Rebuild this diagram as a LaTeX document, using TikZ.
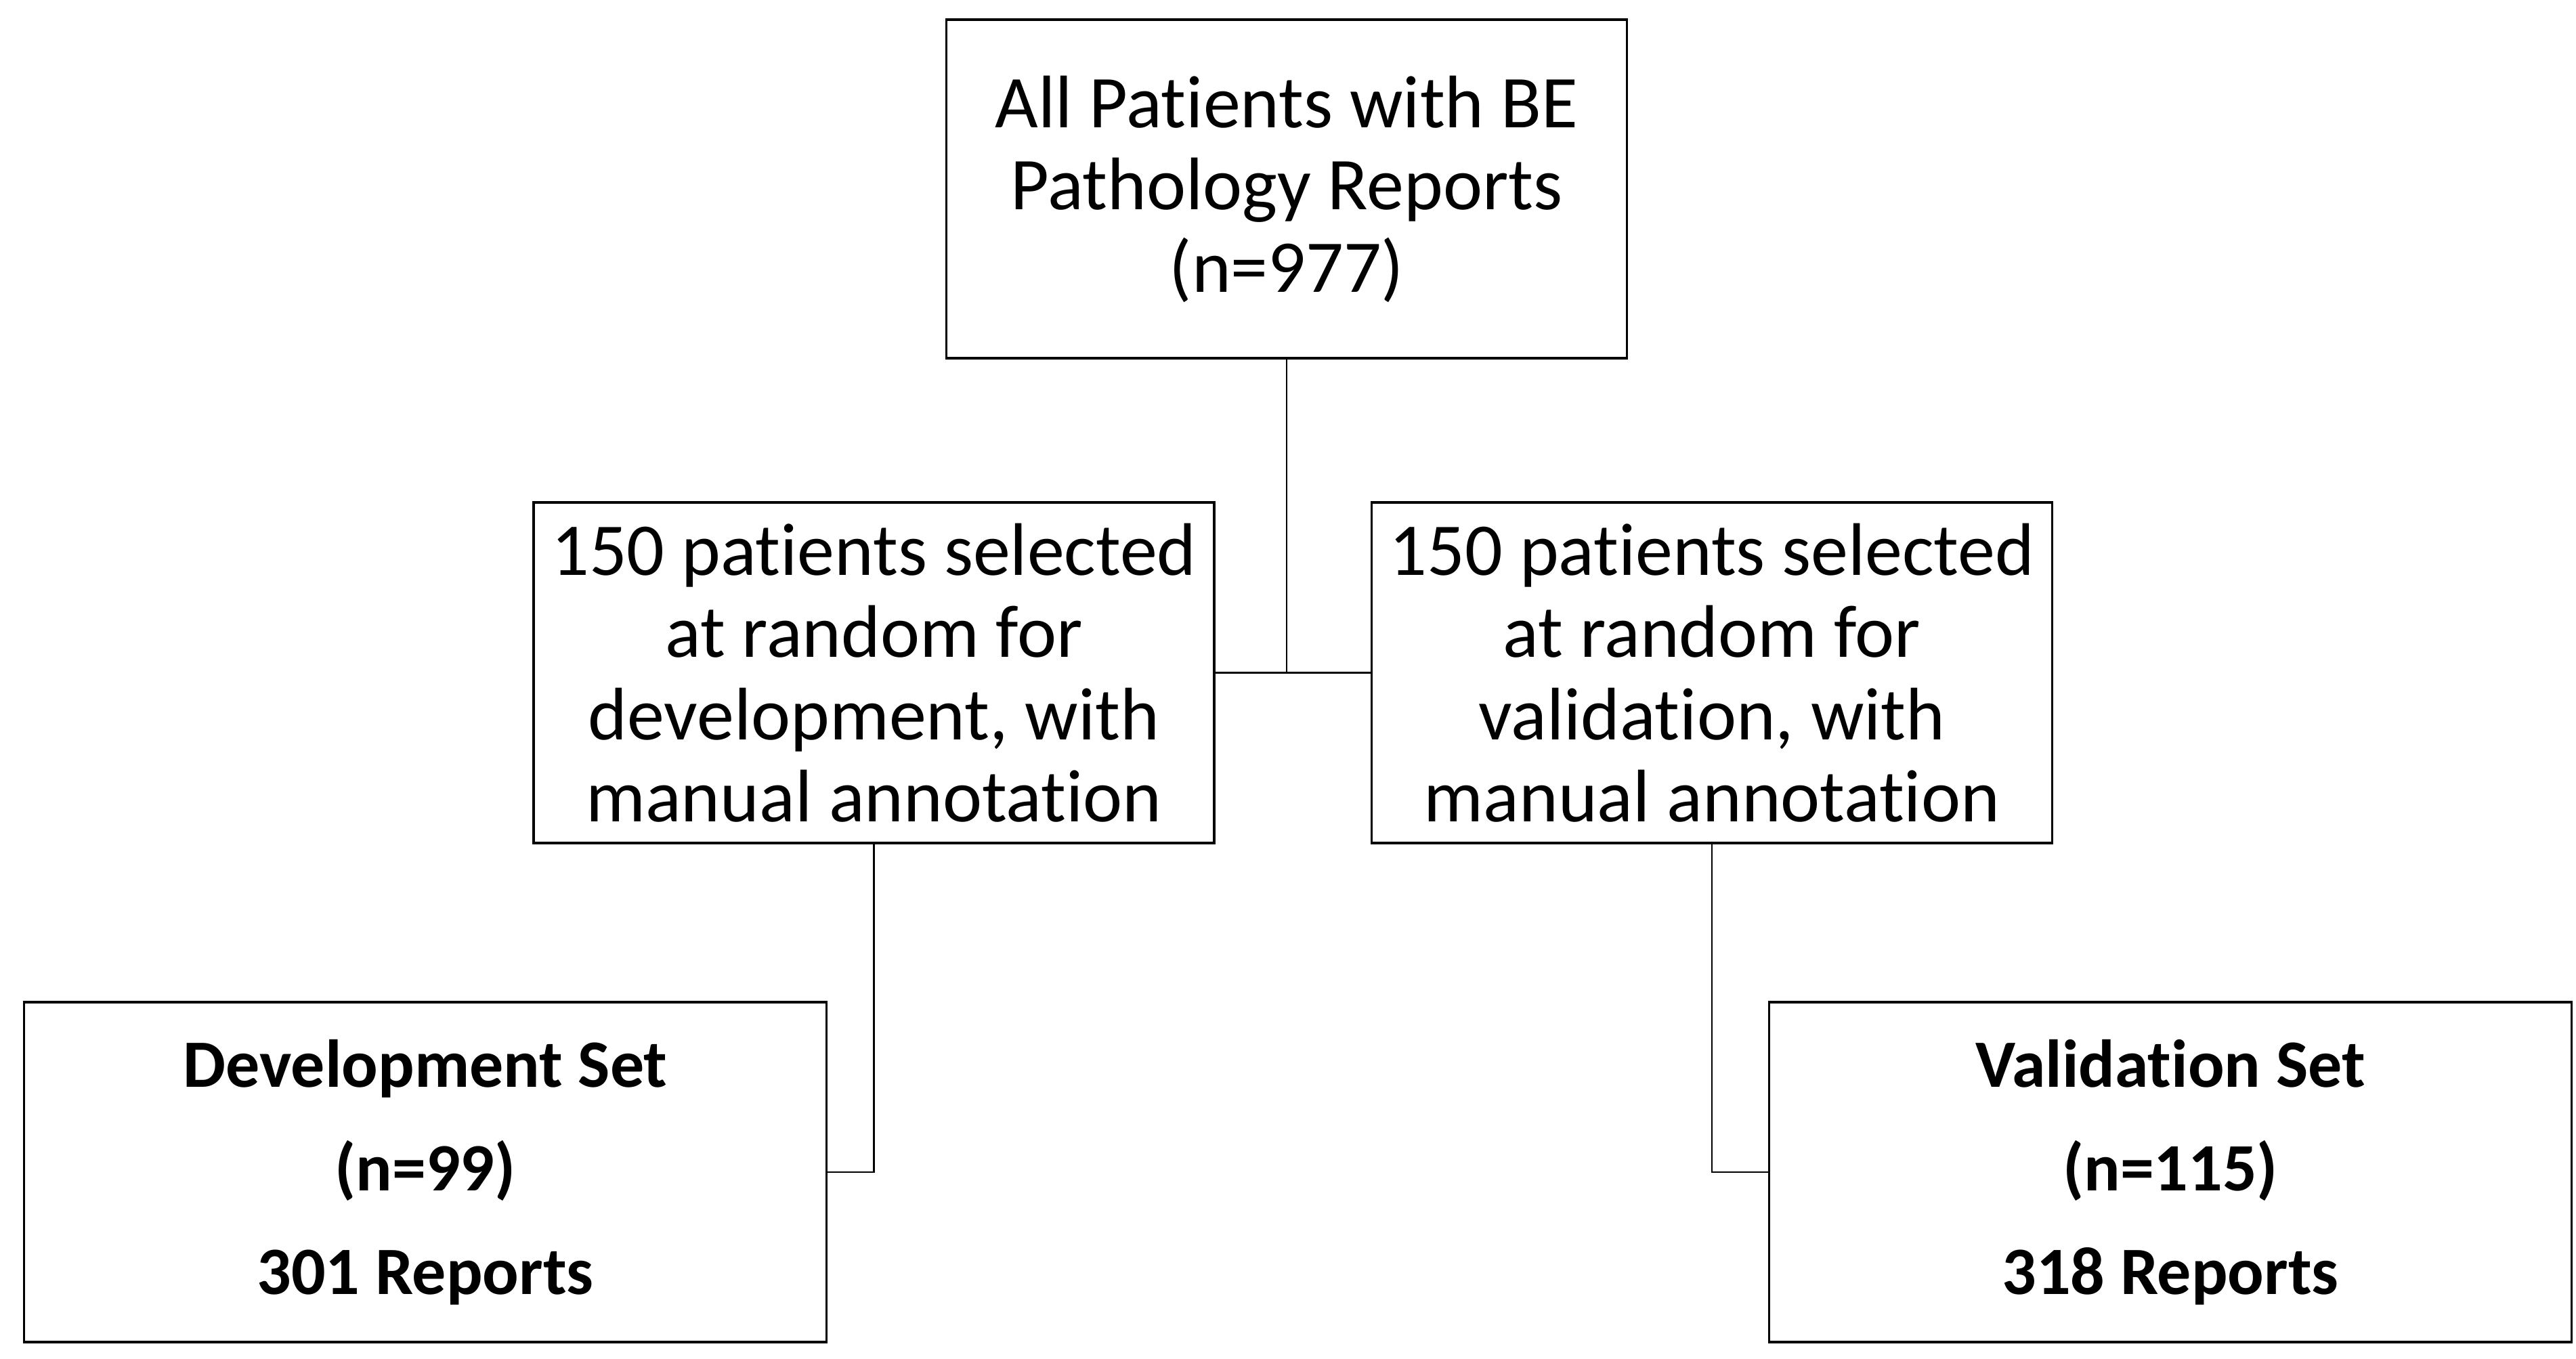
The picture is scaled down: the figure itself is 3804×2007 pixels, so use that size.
\documentclass[tikz,border=0pt]{standalone}
\usepackage{fontspec}
\setmainfont{Carlito}[RawFeature={-liga}]
\begin{document}
\begin{tikzpicture}[x=0.2pt,y=-0.2pt,
  box/.style={draw=black,line width=0.7pt,fill=white,align=center,inner sep=0pt,
    font=\fontsize{22}{24.3}\selectfont},
  topbox/.style={box,minimum width=201pt,minimum height=100pt},
  midbox/.style={box,minimum width=201pt,minimum height=100.6pt},
  botbox/.style={box,minimum width=237pt,minimum height=100.4pt,
    font=\fontsize{20}{30.6}\selectfont\bfseries},
  link/.style={draw=black,line width=0.55pt}]
\useasboundingbox (0,0) rectangle (3804,2007);
\node[topbox] (top) at (1900,279) {All Patients with BE\\Pathology Reports\\(n=977)};
\node[midbox] (midL) at (1290.5,993.5) {150 patients selected\\at random for\\development, with\\manual annotation};
\node[midbox] (midR) at (2528,993.5) {150 patients selected\\at random for\\validation, with\\manual annotation};
\node[botbox] (botL) at (628,1731) {Development Set\\(n=99)\\301 Reports};
\node[botbox] (botR) at (3205,1731) {Validation Set\\(n=115)\\318 Reports};
\draw[link] (top.south) -- (top.south |- midL.east);
\draw[link] (midL.east) -- (midR.west);
\draw[link] (midL.south) |- (botL.east);
\draw[link] (midR.south) |- (botR.west);
\end{tikzpicture}
\end{document}
